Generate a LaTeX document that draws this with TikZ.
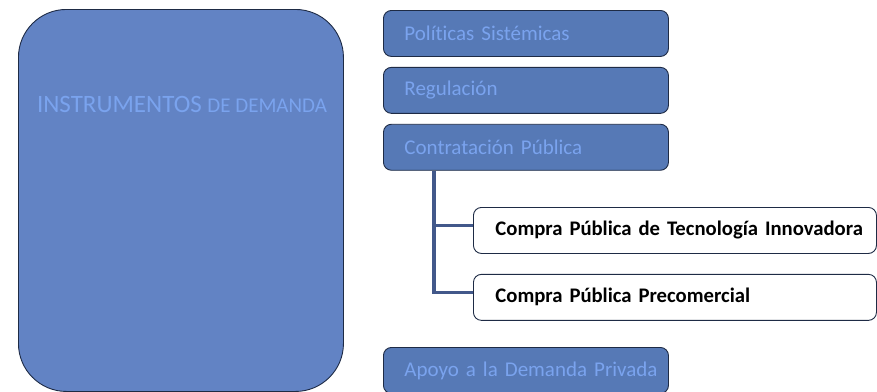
\documentclass[tikz,border=0pt]{standalone}
\usepackage{fontspec}
\setmainfont{Carlito}[Ligatures=NoCommon]
\usetikzlibrary{positioning, calc}

\definecolor{bigblue}{RGB}{98,131,196}
\definecolor{boxblue}{RGB}{86,121,182}
\definecolor{paleblue}{RGB}{122,163,238}
\definecolor{edge}{RGB}{30,43,69}
\definecolor{trunkblue}{RGB}{66,88,138}

\begin{document}
\begin{tikzpicture}[
    x=1pt, y=-1pt,
    bigbox/.style={rectangle, draw=edge, fill=bigblue, line width=0.9pt, rounded corners=48pt, minimum width=325pt, minimum height=382pt, anchor=north west},
    block/.style={rectangle, draw=edge, fill=boxblue, line width=0.9pt, rounded corners=8pt, minimum height=46pt, inner xsep=21pt, inner ysep=0pt, text width=243pt, align=left, text=paleblue, font=\fontsize{21}{25}\selectfont},
    subblock/.style={block, fill=white, text=black, inner xsep=22pt, text width=359pt, font=\fontsize{20.7}{24}\selectfont\bfseries},
    line/.style={draw=trunkblue, line width=3.5pt},
    node distance=10pt
]
    \useasboundingbox (0,0) rectangle (877,391);

    % Nodes
    \node [bigbox] (instr) at (18,9) {};
    \node [text=paleblue] (instrlabel) at (182,104) {\fontsize{25}{30}\selectfont INSTRUMENTOS \fontsize{21}{25}\selectfont DE DEMANDA};
    \node [block, anchor=north west] (politicas) at (383,10) {Políticas Sistémicas};
    \node [block, below=of politicas] (regulacion) {Regulación};
    \node [block, below=of regulacion] (contratacion) {Contratación Pública};
    \node [subblock, anchor=north west] (cpti) at (473,207) {\mbox{Compra Pública de Tecnología Innovadora}};
    \node [subblock, below=20pt of cpti] (cpp) {Compra Pública Precomercial};
    \node [block, anchor=north west] (apoyo) at (383,347) {\mbox{Apoyo a la Demanda Privada}};

    % Contratación branches
    \coordinate (trunk) at ($(contratacion.south west)+(51,0)$);
    \draw [line] (trunk) |- ([yshift=5pt]cpti.west);
    \draw [line] (trunk) |- ([yshift=5pt]cpp.west);

\end{tikzpicture}
\end{document}
